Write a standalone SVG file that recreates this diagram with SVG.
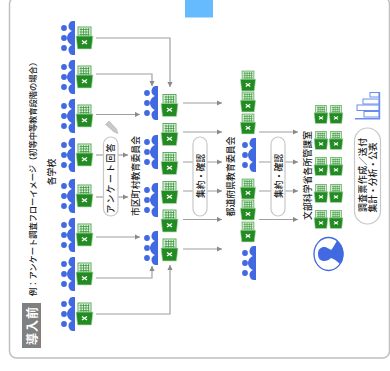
<svg xmlns="http://www.w3.org/2000/svg" width="390" height="371" viewBox="0 0 390 371">
<style>
text{font-family:"Noto Sans CJK JP","Noto Sans",sans-serif;fill:#1a1a1a;text-anchor:middle;dominant-baseline:central}
.l{font-size:8.8px;font-weight:500}
.c{fill:none;stroke:#a0a0a0;stroke-width:1.2}
.p{fill:#fff;stroke:#c8c8c8;stroke-width:1.2}
</style>
<defs>
<marker id="a" markerWidth="6" markerHeight="6" refX="5" refY="3" orient="auto" markerUnits="userSpaceOnUse"><path d="M0 .4L5 3L0 5.6Z" fill="#8a8a8a"/></marker>
<g id="ppl" fill="#4169e1">
<circle cx="-7.5" cy="-10" r="2.9"/><circle cx="-7.5" cy="0" r="2.9"/><circle cx="-7.5" cy="10" r="2.9"/>
<path d="M3.5 -17H1C-1.500 -17 -3 -14 -3 -11.500C-3 -9 -1 -7 3.500 -6Z"/>
<path d="M3.500 -7.500C-1 -7.500 -4.500 -4 -4.500 0C-4.500 4 -1 7.500 3.500 7.500Z"/>
<path d="M3.500 17H1C-1.500 17 -3 14 -3 11.500C-3 9 -1 7 3.500 6Z"/>
</g>
<g id="xl">
<rect x="-6.500" y="-11" width="13" height="9" fill="#e2f2e2" stroke="#5fae5f" stroke-width="1"/>
<path d="M-5 -8.500H5M-5 -6H5M-5 -3.500H5M-3.500 -10V-2M-1 -10V-2M1.500 -10V-2M4 -10V-2" stroke="#3f9a3f" stroke-width=".8" fill="none"/>
<path d="M-8.500 -2H8.500L7 11H-7Z" fill="#228b22" stroke="#b8dcb8" stroke-width=".7"/>
<path d="M-2.500 2.500L2.500 6M2.500 2.500L-2.500 6" stroke="#fff" stroke-width="1.300"/>
</g>
</defs>
<g id="frame"><rect x="9.500" y="-3" width="380" height="361" rx="7" fill="#fff" stroke="#c0c0c0" stroke-width="1.500"/></g>
<rect id="tab" x="185" y="0" width="28" height="17.500" fill="#66bbff"/>
<g id="badge"><rect x="22" y="303" width="19" height="45" fill="#808080"/><text transform="translate(31.500 325.500) rotate(-90)" font-size="12" font-weight="700" style="fill:#fff" letter-spacing="1">導入前</text></g>
<text id="title" transform="translate(32 177) rotate(-90)" font-size="8.300" font-weight="500" textLength="238" lengthAdjust="spacing">例：アンケート調査フローイメージ（初等中等教育段階の場合）</text>
<g id="connectors">
<path class="c" d="M96 38H170V87" marker-end="url(#a)"/>
<path class="c" d="M96 74H152V86" marker-end="url(#a)"/>
<path class="c" d="M96 114.500H140" marker-end="url(#a)"/>
<path class="c" d="M96 155H128" marker-end="url(#a)"/>
<path class="c" d="M96 197H128" marker-end="url(#a)"/>
<path class="c" d="M96 237H140" marker-end="url(#a)"/>
<path class="c" d="M96 278H152V266" marker-end="url(#a)"/>
<path class="c" d="M96 314H170V265" marker-end="url(#a)"/>
<path class="c" d="M183 103H222" marker-end="url(#a)"/>
<path class="c" d="M183 132H222" marker-end="url(#a)"/>
<path class="c" d="M183 162H222" marker-end="url(#a)"/>
<path class="c" d="M183 191H222" marker-end="url(#a)"/>
<path class="c" d="M183 219.500H222" marker-end="url(#a)"/>
<path class="c" d="M183 249H222" marker-end="url(#a)"/>
<path class="c" d="M259 132H298" marker-end="url(#a)"/>
<path class="c" d="M259 162H298" marker-end="url(#a)"/>
<path class="c" d="M259 191H298" marker-end="url(#a)"/>
<path class="c" d="M259 219.500H298" marker-end="url(#a)"/>
</g>
<g id="schools">
<text class="l" transform="translate(51 172) rotate(-90)">各学校</text>
<g id="school1"><use href="#ppl" x="71.500" y="38"/><use href="#xl" x="84.500" y="38"/></g>
<g id="school2"><use href="#ppl" x="71.500" y="77"/><use href="#xl" x="84.500" y="77"/></g>
<g id="school3"><use href="#ppl" x="71.500" y="116"/><use href="#xl" x="84.500" y="116"/></g>
<g id="school4"><use href="#ppl" x="71.500" y="155"/><use href="#xl" x="84.500" y="155"/></g>
<g id="school5"><use href="#ppl" x="71.500" y="196"/><use href="#xl" x="84.500" y="196"/></g>
<g id="school6"><use href="#ppl" x="71.500" y="235"/><use href="#xl" x="84.500" y="235"/></g>
<g id="school7"><use href="#ppl" x="71.500" y="274"/><use href="#xl" x="84.500" y="274"/></g>
<g id="school8"><use href="#ppl" x="71.500" y="314"/><use href="#xl" x="84.500" y="314"/></g>
</g>
<g id="pencil"><path d="M105.500 124.500L109 121L116.500 129L118 133.500L114 132Z" fill="#c8c8c8" stroke="#aaa" stroke-width=".5"/></g>
<g id="answer"><rect class="p" x="103.500" y="137" width="14.500" height="79" rx="7.200"/><text class="l" transform="translate(110.800 178.500) rotate(-90)" textLength="70">アンケート回答</text></g>
<g id="city">
<text class="l" transform="translate(135 176) rotate(-90)" textLength="80">市区町村教育委員会</text>
<use href="#ppl" x="154.500" y="103"/><use href="#ppl" x="154.500" y="152"/><use href="#ppl" x="154.500" y="200"/><use href="#ppl" x="154.500" y="248"/>
<use href="#xl" x="169.500" y="105.500"/><use href="#xl" x="169.500" y="134.500"/><use href="#xl" x="169.500" y="163.500"/><use href="#xl" x="169.500" y="192.500"/><use href="#xl" x="169.500" y="221"/><use href="#xl" x="169.500" y="250"/>
</g>
<g id="check1"><rect class="p" x="193" y="137" width="14" height="79" rx="7"/><text class="l" transform="translate(200 176) rotate(-90)">集約・確認</text></g>
<g id="pref">
<text class="l" transform="translate(230 176.500) rotate(-90)" textLength="80">都道府県教育委員会</text>
<use href="#xl" transform="translate(248 81) scale(.9)"/><use href="#xl" transform="translate(248 102) scale(.9)"/><use href="#xl" transform="translate(248 124) scale(.9)"/>
<use href="#xl" transform="translate(248 189) scale(.9)"/><use href="#xl" transform="translate(248 210) scale(.9)"/><use href="#xl" transform="translate(248 232) scale(.9)"/>
<use href="#ppl" x="252.500" y="155"/><use href="#ppl" x="252.500" y="263"/>
</g>
<g id="check2"><rect class="p" x="271" y="137" width="14" height="79" rx="7"/><text class="l" transform="translate(278 176) rotate(-90)">集約・確認</text></g>
<g id="ministry">
<text class="l" transform="translate(307 175.500) rotate(-90)" textLength="89">文部科学省各所管課室</text>
<g transform="translate(321 114.500) scale(.82)"><use href="#xl"/></g><g transform="translate(336 114.500) scale(.82)"><use href="#xl"/></g>
<g transform="translate(321 140.500) scale(.82)"><use href="#xl"/></g><g transform="translate(336 140.500) scale(.82)"><use href="#xl"/></g>
<g transform="translate(321 166.500) scale(.82)"><use href="#xl"/></g><g transform="translate(336 166.500) scale(.82)"><use href="#xl"/></g>
<g transform="translate(321 193.500) scale(.82)"><use href="#xl"/></g><g transform="translate(336 193.500) scale(.82)"><use href="#xl"/></g>
<g transform="translate(321 219.500) scale(.82)"><use href="#xl"/></g><g transform="translate(336 219.500) scale(.82)"><use href="#xl"/></g>
</g>
<g id="chart" fill="#fff" stroke="#6a8cf0" stroke-width="1">
<rect x="370" y="92.500" width="9" height="4.500"/><rect x="363" y="99" width="16" height="5"/><rect x="357" y="105" width="22" height="5.500"/><rect x="364" y="111.500" width="15" height="5.500"/>
<path d="M355 118.800H379.500V92" fill="none" stroke-width="1.400"/>
</g>
<g id="report"><rect class="p" x="354.500" y="128" width="26" height="96" rx="13"/>
<text class="l" transform="translate(362.500 175) rotate(-90)" textLength="74">調査票作成／送付</text>
<text class="l" transform="translate(372.800 177.500) rotate(-90)" textLength="70">集計・分析・公表</text></g>
<g id="person"><ellipse cx="328.500" cy="254" rx="14.500" ry="16.500" fill="#fff" stroke="#4169e1" stroke-width="1.300"/>
<path d="M318 254C318 249 321 247 324 247C327 247 329 249 331 250C333 248 335 244 337 240.500C341 244 343.500 249 343.500 254C343.500 258 342 261 340 264C337 261 334 259 331 258C329 260 327 261 324 261C321 261 318 259 318 254Z" fill="#4169e1"/></g>
</svg>
